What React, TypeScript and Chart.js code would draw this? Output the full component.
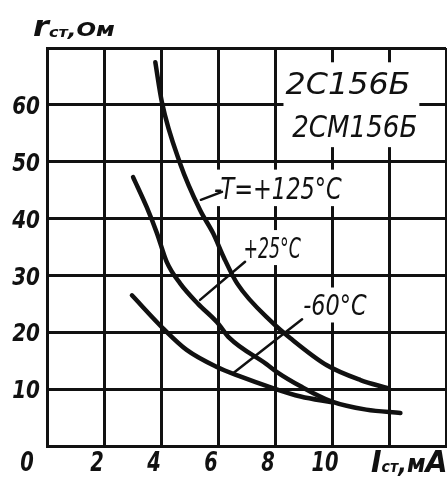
import { useEffect, useRef } from 'react';
import { Chart, registerables } from 'chart.js';

Chart.register(...registerables);

// ---- data ----
const xTicks = [0, 2, 4, 6, 8, 10];
const yTicks = [10, 20, 30, 40, 50, 60];

const curvePlus125: [number, number][] = [
  [3.8, 67.5], [4.03, 60.5], [4.67, 49.7], [5.37, 41.5], [5.83, 37.4],
  [6.2, 33.2], [6.67, 28.6], [7.93, 21.6], [8.53, 19.0], [9.82, 14.2],
  [11.0, 11.6], [11.93, 10.2],
];
const curvePlus25: [number, number][] = [
  [3.02, 47.3], [3.5, 42.0], [3.86, 37.4], [4.2, 32.4], [4.67, 28.6],
  [5.3, 25.0], [5.96, 21.8], [6.4, 19.0], [7.7, 14.4], [8.07, 13.0],
  [8.9, 10.5], [10.0, 7.8], [11.2, 6.4], [12.4, 5.8],
];
const curveMinus60: [number, number][] = [
  [2.98, 26.5], [4.07, 20.7], [4.9, 16.9], [5.96, 13.9], [6.8, 12.2],
  [7.8, 10.4], [8.9, 8.7], [10.0, 7.7],
];

const modelLabels = ['2С156Б', '2СМ156Б'];
const curveLabels = ['-T=+125°C', '+25°C', '-60°C'];

// annotation anchors in data units
const modelAnchors: [number, number][] = [[10.56, 63.75], [10.8, 56.3]];
const curveAnchors: [number, number][] = [[8.1, 45.4], [7.9, 34.9], [10.1, 24.8]];
const leaders: [number, number, number, number][] = [
  [5.4, 43.3, 6.14, 44.7],
  [5.37, 25.7, 6.95, 32.4],
  [6.53, 12.8, 8.95, 22.3],
];

const FONT = '"DejaVu Sans", sans-serif';
const INK = '#111';

function drawText(
  ctx: CanvasRenderingContext2D, s: string, x: number, cy: number,
  size: number, sx: number, align: 'left' | 'center' | 'right', weight = 'bold'
) {
  ctx.save();
  ctx.font = `italic ${weight} ${size}px ${FONT}`;
  ctx.translate(x, cy + size * 0.365);
  ctx.scale(sx, 1);
  ctx.textAlign = align;
  ctx.textBaseline = 'alphabetic';
  ctx.fillStyle = INK;
  ctx.fillText(s, 0, 0);
  ctx.restore();
}

function textBox(ctx: CanvasRenderingContext2D, s: string, size: number, sx: number, weight = 'normal') {
  ctx.save();
  ctx.font = `italic ${weight} ${size}px ${FONT}`;
  const w = ctx.measureText(s).width * sx;
  ctx.restore();
  return { w, h: size * 0.75 };
}

type Part = { t: string; size: number; dy?: number };
function drawRun(ctx: CanvasRenderingContext2D, parts: Part[], x: number, baseline: number, sx: number) {
  let cx = x;
  ctx.save();
  ctx.fillStyle = INK;
  ctx.textAlign = 'left';
  ctx.textBaseline = 'alphabetic';
  for (const p of parts) {
    ctx.font = `italic bold ${p.size}px ${FONT}`;
    ctx.save();
    ctx.translate(cx, baseline + (p.dy || 0));
    ctx.scale(sx, 1);
    ctx.fillText(p.t, 0, 0);
    ctx.restore();
    cx += ctx.measureText(p.t).width * sx;
  }
  ctx.restore();
}

const modelStyle = [{ size: 30, sx: 1.06 }, { size: 30, sx: 0.87 }];
const curveStyle = [{ size: 30, sx: 0.75 }, { size: 28, sx: 0.62 }, { size: 28, sx: 0.8 }];

const decor = {
  id: 'decor',
  afterDatasetsDraw(chart: any) {
    const { ctx, scales } = chart;
    const xs = scales.x;
    const ys = scales.y;

    // white backing for model labels (union box)
    let l = Infinity, r = -Infinity, t = Infinity, b = -Infinity;
    modelLabels.forEach((s, i) => {
      const { w, h } = textBox(ctx, s, modelStyle[i].size, modelStyle[i].sx);
      const cx = xs.getPixelForValue(modelAnchors[i][0]);
      const cy = ys.getPixelForValue(modelAnchors[i][1]);
      l = Math.min(l, cx - w / 2); r = Math.max(r, cx + w / 2);
      t = Math.min(t, cy - h / 2); b = Math.max(b, cy + h / 2);
    });
    ctx.save();
    ctx.fillStyle = '#fff';
    ctx.fillRect(l - 2, t - 10, r - l + 4, b - t + 20);
    // white backing for curve labels
    curveLabels.forEach((s, i) => {
      const { w, h } = textBox(ctx, s, curveStyle[i].size, curveStyle[i].sx);
      const cx = xs.getPixelForValue(curveAnchors[i][0]);
      const cy = ys.getPixelForValue(curveAnchors[i][1]);
      ctx.fillRect(cx - w / 2 - 3, cy - h / 2 - 7, w + 6, h + 14);
    });
    ctx.restore();

    modelLabels.forEach((s, i) => {
      drawText(ctx, s, xs.getPixelForValue(modelAnchors[i][0]), ys.getPixelForValue(modelAnchors[i][1]),
        modelStyle[i].size, modelStyle[i].sx, 'center', 'normal');
    });
    curveLabels.forEach((s, i) => {
      drawText(ctx, s, xs.getPixelForValue(curveAnchors[i][0]), ys.getPixelForValue(curveAnchors[i][1]),
        curveStyle[i].size, curveStyle[i].sx, 'center', 'normal');
    });

    // leader lines
    ctx.save();
    ctx.strokeStyle = INK;
    ctx.lineWidth = 2.5;
    ctx.lineCap = 'round';
    leaders.forEach(([x1, y1, x2, y2]) => {
      ctx.beginPath();
      ctx.moveTo(xs.getPixelForValue(x1), ys.getPixelForValue(y1));
      ctx.lineTo(xs.getPixelForValue(x2), ys.getPixelForValue(y2));
      ctx.stroke();
    });
    ctx.restore();
  },
  afterDraw(chart: any) {
    const { ctx, scales } = chart;
    const xs = scales.x;
    const ys = scales.y;
    // y tick labels
    yTicks.forEach((v) => {
      drawText(ctx, String(v), xs.left - 7, ys.getPixelForValue(v), 25, 0.8, 'right');
    });
    // x tick labels
    const base = ys.bottom + 15;
    xTicks.forEach((v) => {
      const px = xs.getPixelForValue(v) + (v === 0 ? -20 : -7);
      drawText(ctx, String(v), px, base, 27, 0.72, 'center');
    });
    // axis titles
    drawRun(ctx, [
      { t: 'I', size: 30 }, { t: 'ст', size: 15, dy: 0 }, { t: ',', size: 24 },
      { t: 'м', size: 24 }, { t: 'А', size: 30 },
    ], xs.getPixelForValue(12) - 18, base + 11, 0.95);
    drawRun(ctx, [
      { t: 'r', size: 28 }, { t: 'ст', size: 14, dy: 1 }, { t: ',', size: 20 },
      { t: 'Ом', size: 20 },
    ], xs.left - 14, ys.top - 12, 1.15);
  },
};

export default function App() {
  const ref = useRef<HTMLCanvasElement>(null);
  useEffect(() => {
    document.body.style.margin = '0';
    const canvas = ref.current!;
    const line = (pts: [number, number][]) => ({
      data: pts.map(([x, y]) => ({ x, y })),
      showLine: true,
      borderColor: INK,
      borderWidth: 4.5,
      pointRadius: 0,
      cubicInterpolationMode: 'monotone' as const,
      borderCapStyle: 'round' as const,
    });
    const chart = new Chart(canvas, {
      type: 'scatter',
      data: {
        datasets: [
          { label: '+125°C', ...line(curvePlus125) },
          { label: '+25°C', ...line(curvePlus25) },
          { label: '-60°C', ...line(curveMinus60) },
        ],
      },
      options: {
        animation: false,
        responsive: false,
        devicePixelRatio: 1,
        layout: { padding: { left: 47, top: 48, right: 1, bottom: 42 } },
        plugins: { legend: { display: false }, tooltip: { enabled: false } },
        scales: {
          x: {
            type: 'linear', min: 0, max: 14,
            ticks: { stepSize: 2, display: false },
            grid: { color: INK, lineWidth: 3, drawTicks: false },
            border: { color: INK, width: 3 },
            afterFit: (s: any) => { s.height = 0; },
          },
          y: {
            type: 'linear', min: 0, max: 70,
            ticks: { stepSize: 10, display: false },
            grid: { color: INK, lineWidth: 3, drawTicks: false },
            border: { color: INK, width: 3 },
            afterFit: (s: any) => { s.width = 0; },
          },
        },
      },
      plugins: [decor],
    });
    return () => chart.destroy();
  }, []);
  return <canvas ref={ref} width={447} height={488} style={{ display: 'block' }} />;
}
